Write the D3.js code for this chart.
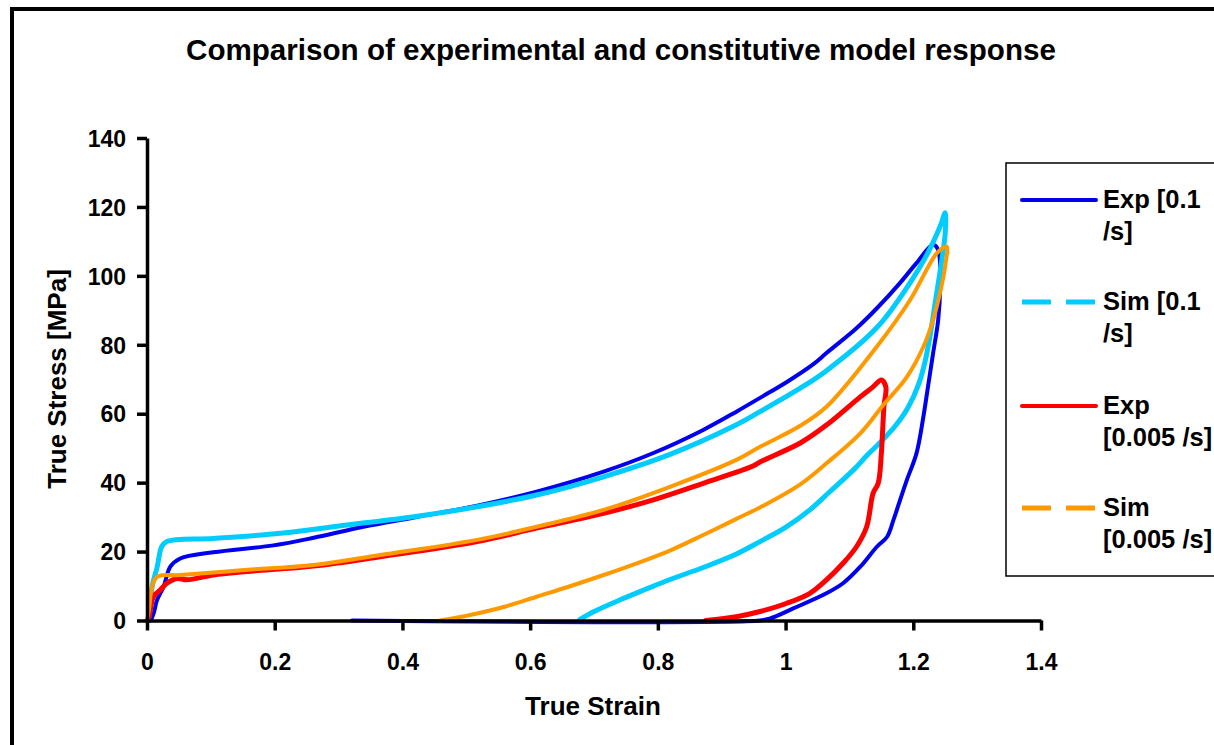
<!DOCTYPE html>
<html><head><meta charset="utf-8">
<script src="https://cdn.jsdelivr.net/npm/d3@7/dist/d3.min.js"></script>
<style>
html,body{margin:0;padding:0;background:#fff;overflow:hidden}
text{font-family:"Liberation Sans",Arial,sans-serif;font-weight:bold;fill:#000}
</style></head>
<body>
<svg id="chart" width="1214" height="745"></svg>
<script>
// ---- data ----
const titleText = "Comparison of experimental and constitutive model response";
const xLabel = "True Strain";
const yLabel = "True Stress [MPa]";
const xTicks = [0, 0.2, 0.4, 0.6, 0.8, 1, 1.2, 1.4];
const yTicks = [0, 20, 40, 60, 80, 100, 120, 140];
const seriesNames = [["Exp [0.1", "/s]"], ["Sim [0.1", "/s]"], ["Exp", "[0.005 /s]"], ["Sim", "[0.005 /s]"]];

const expFastStrain = [0,0.005,0.0104,0.0157,0.026,0.0365,0.052,0.104,0.198,0.261,0.339,0.418,0.517,0.610,0.715,0.793,0.871,0.923,0.960,1.002,1.043,1.064,1.111,1.143,1.179,1.205,1.231,
  1.239,1.242,1.239,1.231,1.223,1.215,1.205,1.190,1.181,1.169,1.159,1.143,1.117,1.090,1.064,1.012,0.976,0.960,0.321];
const expFastStress = [0,0,2.1,5.9,9.8,15.6,18,19.8,21.8,24.0,27.2,29.9,33.3,37.4,43.2,48.6,55.3,60.6,64.6,69.2,74.3,77.6,84.8,90.6,97.9,103.7,109.0,
  107.5,96.9,87.2,77.5,67.8,58.2,48.5,40.8,35.9,29.2,24.3,21.4,15.6,10.8,7.9,3.5,0.6,0,0];

const simFastStrain = [0,0.003,0.008,0.016,0.023,0.031,0.104,0.209,0.313,0.418,0.517,0.610,0.715,0.819,0.923,0.960,1.023,1.064,1.143,1.195,1.221,1.242,1.250,
  1.250,1.243,1.235,1.227,1.219,1.209,1.192,1.172,1.150,1.128,1.108,1.070,1.038,1.000,0.960,0.923,0.870,0.819,0.780,0.741,0.700,0.678];
const simFastStress = [0,1.1,9.8,15.6,21.4,22.9,23.8,25.3,27.7,30.1,33.0,36.4,41.7,48.2,56.8,60.6,67.4,72.5,85.0,98,106,114.3,118.3,
  112.4,102.6,93,83.4,75.6,68.9,61.9,56.5,52,48,44,37.5,32.1,27,22.9,19.3,15.3,11.9,9.0,6.0,2.6,0.3];

const expSlowStrain = [0,0.003,0.010,0.021,0.031,0.047,0.063,0.104,0.157,0.261,0.365,0.517,0.610,0.715,0.793,0.871,0.949,0.960,1.023,1.064,1.117,1.137,1.150,1.157,
  1.154,1.150,1.145,1.137,1.127,1.111,1.090,1.064,1.038,1.002,0.960,0.923,0.875];
const expSlowStress = [0,1,6.9,8.9,10.8,12.2,11.8,13.2,14.2,15.8,18.5,22.9,26.8,31.1,35.0,39.8,44.8,46.0,51.5,56.7,64.9,67.8,69.8,67.8,
  62.0,48.5,39.8,36.9,27.2,21.4,16.6,11.8,7.9,5.0,2.6,1.1,0];

const simSlowStrain = [0,0.003,0.008,0.016,0.052,0.157,0.261,0.365,0.517,0.610,0.715,0.819,0.923,0.960,1.023,1.064,1.143,1.195,1.237,1.252,
  1.250,1.244,1.231,1.216,1.190,1.153,1.117,1.064,1.023,0.960,0.923,0.871,0.819,0.767,0.715,0.660,0.610,0.560,0.506,0.459];
const simSlowStress = [0,3.0,9.8,12.7,13.2,14.7,16.1,19.0,23.4,27.2,32.1,38.8,46.6,50.4,56.5,62.0,79.5,93.0,106.6,108.5,
  103,96.9,87.2,79.5,70.7,62.5,54.3,45.6,39.5,32.8,29.5,24.8,20.3,16.6,13.2,9.8,6.9,4,1.6,0];

// ---- chart ----
const svg = d3.select("#chart");
const x = d3.scaleLinear().domain([0, 1.4]).range([147, 1041]);
const y = d3.scaleLinear().domain([0, 140]).range([620.5, 138]);

// outer frame
svg.append("rect").attr("x", 12).attr("y", 9).attr("width", 1240).attr("height", 780)
  .attr("fill", "none").attr("stroke", "#000").attr("stroke-width", 4);

svg.append("text").attr("x", 621).attr("y", 60).attr("text-anchor", "middle")
  .style("font-size", "29.6px").text(titleText);

const series = [
  {sx: expFastStrain, sy: expFastStress, color: "#0000ee", w: 4, dash: null},
  {sx: simFastStrain, sy: simFastStress, color: "#00ccff", w: 5, dash: "29,15"},
  {sx: expSlowStrain, sy: expSlowStress, color: "#ff0000", w: 5, dash: null},
  {sx: simSlowStrain, sy: simSlowStress, color: "#ff9900", w: 4, dash: "29,15"}
];

const line = d3.line().x(d => x(d[0])).y(d => y(d[1])).curve(d3.curveCatmullRom.alpha(0.5));
series.forEach(s => {
  const pts = s.sx.map((v, i) => [v, s.sy[i]]);
  svg.append("path").attr("d", line(pts)).attr("fill", "none")
    .attr("stroke", s.color).attr("stroke-width", s.w)
    .attr("stroke-linejoin", "round").attr("stroke-linecap", "round");
});

// axes
const xAxis = d3.axisBottom(x).tickValues(xTicks).tickSize(10).tickSizeOuter(0).tickFormat(d => d3.format("")(d));
const gx = svg.append("g").attr("transform", "translate(0,620.5)").call(xAxis);
gx.select(".domain").attr("stroke", "#000").attr("stroke-width", 3.5);
gx.selectAll(".tick line").attr("stroke", "#000").attr("stroke-width", 3.5);
gx.selectAll(".tick text").attr("y", 49).attr("dy", 0).style("font-size", "23px")
  .style("font-family", '"Liberation Sans",Arial,sans-serif').style("font-weight", "bold").attr("fill", "#000");

const yAxis = d3.axisLeft(y).tickValues(yTicks).tickSize(10).tickSizeOuter(0);
const gy = svg.append("g").attr("transform", "translate(147,0)").call(yAxis);
gy.select(".domain").attr("stroke", "#000").attr("stroke-width", 3.5);
gy.selectAll(".tick line").attr("stroke", "#000").attr("stroke-width", 3.5);
gy.selectAll(".tick text").attr("x", -21).attr("dy", "0.36em").style("font-size", "23px")
  .style("font-family", '"Liberation Sans",Arial,sans-serif').style("font-weight", "bold").attr("fill", "#000");

svg.append("text").attr("x", 593).attr("y", 715).attr("text-anchor", "middle")
  .style("font-size", "26px").text(xLabel);
svg.append("text").attr("transform", "translate(66,379) rotate(-90)").attr("text-anchor", "middle")
  .style("font-size", "26px").text(yLabel);

// legend
svg.append("rect").attr("x", 1006).attr("y", 163).attr("width", 300).attr("height", 413)
  .attr("fill", "none").attr("stroke", "#000").attr("stroke-width", 1.5);
const legY = [200, 302, 406, 508];
series.forEach((s, i) => {
  const ly = legY[i];
  svg.append("line").attr("x1", 1022).attr("x2", 1096).attr("y1", ly).attr("y2", ly)
    .attr("stroke", s.color).attr("stroke-width", s.dash ? 5 : 4)
    .attr("stroke-linecap", s.dash ? "butt" : "round")
    .attr("stroke-dasharray", s.dash);
  seriesNames[i].forEach((t, j) => {
    svg.append("text").attr("x", 1103).attr("y", ly + 8 + j * 32)
      .style("font-size", "25.5px").text(t);
  });
});
</script>
</body></html>
